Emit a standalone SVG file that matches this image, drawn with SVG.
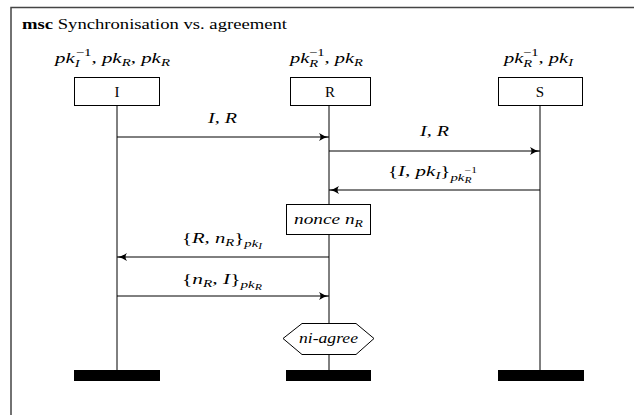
<svg xmlns="http://www.w3.org/2000/svg" width="634" height="415" viewBox="0 0 634 415">
<style>
text{font-family:"Liberation Serif","DejaVu Serif","Times New Roman",serif;fill:#000}
.t{font-size:15px}
.m{font-style:italic;font-size:15.5px}
.s{font-size:11px}
.ss{font-size:8.5px}
.u{font-style:normal}
.ln{stroke:#000;stroke-width:1;fill:none}
.box{stroke:#000;stroke-width:1;fill:#fff}
.msg{stroke:#000;stroke-width:1;fill:none;marker-end:url(#ah)}
.bar{fill:#000}
</style>
<defs>
<marker id="ah" viewBox="0 0 10 8" refX="10" refY="4" markerWidth="10" markerHeight="8" markerUnits="userSpaceOnUse" orient="auto">
<path d="M0,0 Q5,3.5 10,4 Q5,4.5 0,8 Q3,4 0,0 Z" fill="#000"/>
</marker>
</defs>
<rect x="11" y="7.5" width="640" height="420" fill="none" stroke="#444" stroke-width="1.5"/>
<text class="t" x="22" y="29" font-size="16" textLength="265" lengthAdjust="spacingAndGlyphs"><tspan font-weight="bold">msc</tspan> Synchronisation vs. agreement</text>

<g id="lifelines">
<line class="ln" x1="117" y1="106" x2="117" y2="372"/>
<line class="ln" x1="329" y1="106" x2="329" y2="372"/>
<line class="ln" x1="540" y1="106" x2="540" y2="372"/>
</g>

<g id="node-I">
<text class="m" x="55" y="63" textLength="115" lengthAdjust="spacingAndGlyphs">pk<tspan class="s" dy="4">I</tspan><tspan class="s u" dx="-3" dy="-11">−1</tspan><tspan class="u" dy="7">, </tspan>pk<tspan class="s" dy="3">R</tspan><tspan class="u" dy="-3">, </tspan>pk<tspan class="s" dy="3">R</tspan></text>
<rect class="box" x="74.5" y="77.5" width="85" height="28"/>
<text class="t" x="117" y="97" text-anchor="middle">I</text>
<rect class="bar" x="74" y="370" width="86" height="11"/>
</g>

<g id="node-R">
<text class="m" x="290" y="63" textLength="73" lengthAdjust="spacingAndGlyphs">pk<tspan class="s" dy="4">R</tspan><tspan class="s u" dx="-7" dy="-11">−1</tspan><tspan class="u" dy="7">, </tspan>pk<tspan class="s" dy="3">R</tspan></text>
<rect class="box" x="290.5" y="77.5" width="80" height="28"/>
<text class="t" x="330" y="97" text-anchor="middle">R</text>
<rect class="bar" x="286" y="370" width="85" height="11"/>
</g>

<g id="node-S">
<text class="m" x="504" y="63" textLength="69" lengthAdjust="spacingAndGlyphs">pk<tspan class="s" dy="4">R</tspan><tspan class="s u" dx="-7" dy="-11">−1</tspan><tspan class="u" dy="7">, </tspan>pk<tspan class="s" dy="3">I</tspan></text>
<rect class="box" x="498.5" y="77.5" width="84" height="28"/>
<text class="t" x="540" y="97" text-anchor="middle">S</text>
<rect class="bar" x="498" y="370" width="86" height="11"/>
</g>

<g id="action-nonce">
<rect class="box" x="286.5" y="204.5" width="84" height="30"/>
<text class="m" x="294" y="224" textLength="69" lengthAdjust="spacingAndGlyphs">nonce  n<tspan class="s" dy="3">R</tspan></text>
</g>

<g id="cond-niagree">
<polygon class="box" points="283,338.5 302,323.5 356,323.5 374,338.5 356,354.5 302,354.5"/>
<text class="m" x="299" y="343" textLength="59" lengthAdjust="spacingAndGlyphs">ni-agree</text>
</g>

<g id="connectors">
<line class="msg" x1="117" y1="137" x2="329" y2="137"/>
<text class="m" x="208" y="123" textLength="29" lengthAdjust="spacingAndGlyphs">I<tspan class="u">, </tspan>R</text>
<line class="msg" x1="329" y1="151" x2="540" y2="151"/>
<text class="m" x="420" y="136" textLength="29" lengthAdjust="spacingAndGlyphs">I<tspan class="u">, </tspan>R</text>
<line class="msg" x1="540" y1="190" x2="329" y2="190"/>
<text class="m" x="388" y="176" textLength="89" lengthAdjust="spacingAndGlyphs"><tspan class="u">{</tspan>I<tspan class="u">, </tspan>pk<tspan class="s" dy="3">I</tspan><tspan class="u" dy="-3">}</tspan><tspan class="s" dy="5">pk</tspan><tspan class="ss" dy="2">R</tspan><tspan class="ss u" dx="-5" dy="-10">−1</tspan></text>
<line class="msg" x1="329" y1="257" x2="117" y2="257"/>
<text class="m" x="182" y="243" textLength="80" lengthAdjust="spacingAndGlyphs"><tspan class="u">{</tspan>R<tspan class="u">, </tspan>n<tspan class="s" dy="3">R</tspan><tspan class="u" dy="-3">}</tspan><tspan class="s" dy="4">pk</tspan><tspan class="ss" dy="2">I</tspan></text>
<line class="msg" x1="117" y1="296" x2="329" y2="296"/>
<text class="m" x="182" y="284" textLength="80" lengthAdjust="spacingAndGlyphs"><tspan class="u">{</tspan>n<tspan class="s" dy="3">R</tspan><tspan class="u" dy="-3">, </tspan>I<tspan class="u">}</tspan><tspan class="s" dy="4">pk</tspan><tspan class="ss" dy="2">R</tspan></text>
</g>
</svg>
